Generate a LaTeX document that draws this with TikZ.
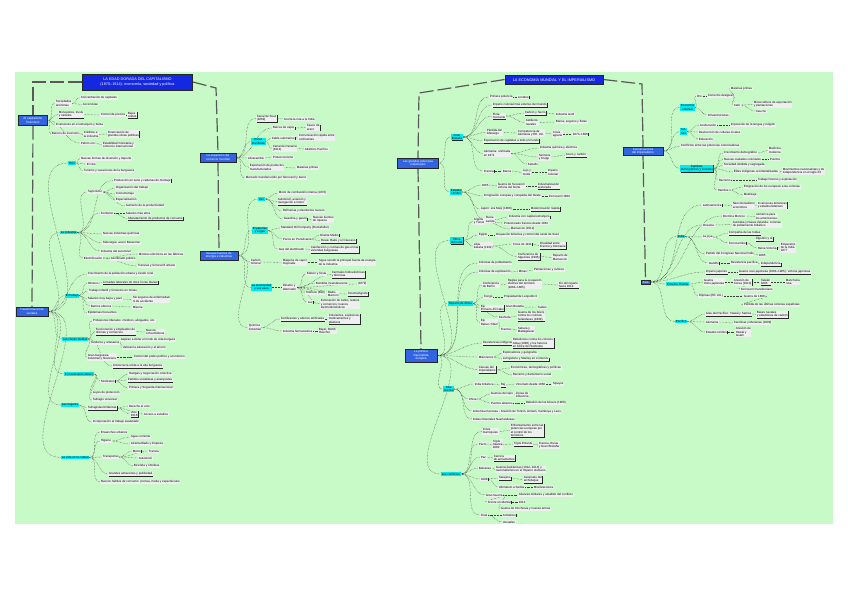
\documentclass[tikz,border=0pt]{standalone}
\usepackage{fontspec}
\setmainfont{Liberation Sans}
\usetikzlibrary{shadows,backgrounds}
\definecolor{paper}{RGB}{200,250,200}
\definecolor{titleblue}{RGB}{20,40,225}
\definecolor{topicblue}{RGB}{50,100,225}
\definecolor{subcyan}{RGB}{0,235,240}
\definecolor{leafgray}{RGB}{238,240,240}
\newcommand\mmfont{\fontsize{3}{3.4}\selectfont}

\begin{document}
\begin{tikzpicture}[
  x=1pt, y=-1pt,
  every node/.style={font=\mmfont},
  titlebox/.style={fill=titleblue, text=white, draw=black!85, line width=0.7pt, align=center, inner sep=1pt, font=\fontsize{3.8}{4.4}\selectfont},
  topic/.style={fill=topicblue, text=white, draw=black!85, line width=0.4pt, align=center, inner sep=0.5pt,
    drop shadow={shadow xshift=0.6pt, shadow yshift=-0.6pt, fill=black!85, opacity=1}},
  sub/.style={anchor=west, fill=subcyan, align=center, inner sep=0.6pt},
  subb/.style={sub, drop shadow={shadow xshift=0.5pt, shadow yshift=-0.5pt, fill=black!85, opacity=1}},
  leaf/.style={anchor=west, fill=leafgray, align=left, inner sep=0.6pt},
  leafb/.style={leaf, drop shadow={shadow xshift=0.5pt, shadow yshift=-0.5pt, fill=black!85, opacity=1}},
  branch/.style={draw=black!65, line width=1.2pt, dash pattern=on 14pt off 4pt},
  link/.style={draw=black!75, line width=0.45pt, densely dotted}
]
\useasboundingbox (0,0) rectangle (848,599);

% titles and main topics
\node[titlebox, minimum width=110pt, minimum height=16pt] (t1) at (137.5,82) {LA EDAD DORADA DEL CAPITALISMO\\ (1870--1914): economía, sociedad y política};
\node[titlebox, minimum width=98pt, minimum height=9pt] (t2) at (554,79.5) {LA ECONOMÍA MUNDIAL Y EL IMPERIALISMO};

\node[topic, minimum width=29pt, minimum height=10pt] (A) at (33,120.5) {El capitalismo\\ financiero};
\node[topic, minimum width=32pt, minimum height=9pt] (B) at (32,311.5) {Transformaciones\\ sociales};
\node[topic, minimum width=36pt, minimum height=9pt] (C) at (218,157.5) {La expansión del\\ comercio mundial};
\node[topic, minimum width=38pt, minimum height=9pt] (D) at (219,255.5) {Nuevas fuentes de\\ energía e industrias};
\node[topic, minimum width=41pt, minimum height=10pt] (F) at (418,163) {Las grandes potencias\\ industriales};
\node[topic, minimum width=32pt, minimum height=13pt] (E) at (421,355.5) {La política\\ imperialista\\ europea};
\node[topic, minimum width=40pt, minimum height=8pt] (G) at (643,151) {Consecuencias\\ del imperialismo};
\node[topic, minimum width=9pt, minimum height=4.5pt] (H) at (645.5,282) {Asia};

\coordinate (k1) at (33,84);
\coordinate (k2) at (216,88);
\coordinate (k3) at (419,93);
\coordinate (k4) at (642,84);

% capitalismo financiero
\node[leaf] (a1) at (55,103.5) {Sociedades\\ anónimas};
\node[leaf] (a11) at (80,97.5) {Concentración de capitales};
\node[leaf] (a12) at (82,104.5) {Accionistas};
\node[leafb] (a2) at (58,114.5) {Monopolios, trusts\\ y cárteles};
\node[leaf] (a21) at (100,115) {Control de precios};
\node[leafb] (a22) at (127,115) {Bajos\\ costes};
\node[leaf] (a3) at (55,125) {Inversiones en el extranjero y bolsa};
\node[leaf] (a4) at (51,133.5) {Bancos de inversión};
\node[leafb] (a41) at (83,134.5) {Créditos a\\ la industria};
\node[leafb] (a42) at (107,134) {Financiación de\\ grandes obras públicas};
\node[leaf] (a5) at (80,143) {Patrón oro};
\node[leaf] (a51) at (102,145) {Estabilidad monetaria y\\ comercio internacional};

% transformaciones sociales
\node[sub] (b1) at (68,163) {Ocio};
\node[leaf] (b11) at (80,158.5) {Nuevas formas de diversión y deporte};
\node[leaf] (b12) at (86,164) {El cine};
\node[leaf] (b13) at (83,171) {Turismo y vacaciones de la burguesía};
\node[sub] (b2) at (60,232.5) {La industria};
\node[leafb] (b21) at (113,180.5) {Producción en serie y cadenas de montaje};
\node[leaf] (b22) at (87,192) {Taylorismo};
\node[leaf] (b221) at (115,188) {Organización del trabajo};
\node[leaf] (b222) at (115,194) {Cronometraje};
\node[leaf] (b223) at (115,200) {Especialización};
\node[leaf] (b224) at (125,206) {Aumento de la productividad};
\node[leaf] (b23) at (100,213) {Fordismo};
\node[leaf] (b231) at (125,213) {Salarios más altos};
\node[leafb] (b232) at (127,218.5) {Abaratamiento de productos de consumo};
\node[leaf] (b24) at (102,234) {Nuevas industrias químicas};
\node[leafb] (b25) at (102,243) {Siderurgia: acero Bessemer};
\node[leaf] (b26) at (100,251) {Industria del automóvil};
\node[leaf] (b27) at (83,258) {Electrificación};
\node[leaf] (b271) at (110,259) {Alumbrado público};
\node[leaf] (b272) at (138,254) {Motores eléctricos en las fábricas};
\node[leaf] (b273) at (137,266) {Tranvías y ferrocarril urbano};
\node[leaf] (b28) at (87,274) {Crecimiento de la población urbana y éxodo rural};
\node[sub] (b3) at (65,295.5) {El trabajo};
\node[leaf] (b31) at (87,283) {Obreros};
\node[leafb] (b311) at (102,282.5) {Jornadas laborales de doce horas diarias};
\node[leaf] (b32) at (88,291) {Trabajo infantil y femenino en minas};
\node[leaf] (b33) at (87,299) {Salarios muy bajos y paro};
\node[leaf] (b331) at (132,299.5) {Sin seguros de enfermedad\\ ni de accidente};
\node[leaf] (b34) at (90,306) {Barrios obreros};
\node[leaf] (b341) at (132,307) {Miseria};
\node[leaf] (b35) at (87,313) {Epidemias frecuentes};
\node[sub] (b4) at (62,339) {Las clases medias};
\node[leaf] (b41) at (92,321) {Profesiones liberales: médicos, abogados, etc.};
\node[leafb] (b42) at (95,331.5) {Funcionarios y empleados de\\ oficinas y comercios};
\node[leaf] (b421) at (145,332) {Nuevos\\ consumidores};
\node[leaf] (b43) at (90,343) {Tenderos y artesanos};
\node[leaf] (b431) at (120,340) {Aspiran a imitar el modo de vida burgués};
\node[leaf] (b432) at (122,348) {Valoran la educación y el ahorro};
\node[leaf] (b44) at (87,357) {Gran burguesía\\ industrial y financiera};
\node[leaf] (b441) at (133,357) {Control del poder político y económico};
\node[leafb] (b45) at (112,366) {Aristocracia unida a la alta burguesía};
\node[sub] (b5) at (64,374) {El movimiento obrero};
\node[leafb] (b51) at (100,381) {Sindicatos};
\node[leaf] (b511) at (128,374) {Huelgas y negociación colectiva};
\node[leafb] (b512) at (127,380) {Partidos socialistas y anarquistas};
\node[leaf] (b513) at (128,388) {Primera y Segunda Internacional};
\node[leaf] (b52) at (92,393) {Leyes de protección};
\node[leaf] (b53) at (92,400) {Sufragio universal};
\node[sub] (b6) at (61,405) {Las mujeres};
\node[leafb] (b61) at (87,408) {Sufragistas británicas};
\node[leaf] (b611) at (128,406) {Derecho al voto};
\node[leafb] (b612) at (130,414) {Voto\\ 1918};
\node[leaf] (b613) at (143,414) {Acceso a estudios};
\node[leaf] (b62) at (92,422) {Incorporación al trabajo asalariado};
\node[sub] (b7) at (61,457.5) {La vida en la ciudad};
\node[leaf] (b71) at (100,432) {Ensanches urbanos};
\node[leaf] (b72) at (100,441) {Higiene};
\node[leaf] (b721) at (130,437) {Agua corriente};
\node[leaf] (b722) at (130,444) {Alcantarillado y limpieza};
\node[leaf] (b73) at (102,457) {Transportes};
\node[leafb] (b731) at (132,451) {Metro};
\node[leaf] (b732) at (148,451) {Tranvía};
\node[leafb] (b733) at (138,458) {Automóvil};
\node[leaf] (b734) at (133,466) {Bicicleta y ómnibus};
\node[leafb] (b74) at (108,474) {Grandes almacenes y publicidad};
\node[leaf] (b75) at (100,482) {Nuevos hábitos de consumo: prensa, moda y espectáculos};

% comercio mundial
\node[sub] (c1) at (251,141.5) {Rutas\\ marítimas};
\node[leafb] (c2) at (256,118.5) {Canal de Suez\\ (1869)};
\node[leaf] (c21) at (283,119) {Acorta la ruta a la India};
\node[leafb] (c3) at (272,128) {Barcos de vapor};
\node[leafb] (c31) at (306,127.5) {Casco de\\ acero};
\node[leafb] (c4) at (271,138) {Cable submarino};
\node[leaf] (c41) at (298,137.5) {Comunicación rápida entre\\ continentes};
\node[leaf] (c5) at (272,148.5) {Canal de Panamá\\ (1914)};
\node[leaf] (c51) at (304,149) {Atlántico-Pacífico};
\node[leafb] (c6) at (247,158) {Librecambio};
\node[leafb] (c61) at (272,157) {Proteccionismo};
\node[leaf] (c7) at (249,167.5) {Exportación de productos\\ manufacturados};
\node[leaf] (c71) at (296,168) {Materias primas};
\node[leaf] (c8) at (245,178) {Mercado mundial unido por ferrocarril y barco};

% energia
\node[sub] (d1) at (258,199) {Uso};
\node[leaf] (d11) at (278,193) {Motor de combustión interna (1876)};
\node[leafb] (d12) at (277,201.5) {Automóvil, aviación y\\ navegación a motor};
\node[leaf] (d13) at (282,211) {Refinerías y oleoductos nuevos};
\node[leafb] (d14) at (283,219) {Gasolina y gasoil};
\node[leaf] (d141) at (312,219.5) {Nuevas fuentes\\ de riqueza};
\node[sub] (d2) at (252,230.5) {El petróleo\\ y el gas};
\node[leafb] (d21) at (280,228) {Standard Oil Company (Rockefeller)};
\node[leaf] (d22) at (282,239) {Pozos en Pensilvania};
\node[leafb] (d221) at (319,235) {Oriente Medio};
\node[leafb] (d222) at (320,241) {Rusia: Bakú y el Cáucaso};
\node[leaf] (d23) at (278,249) {Gas del alumbrado};
\node[leafb] (d231) at (310,249.5) {Calefacción y cocinas de gas en las\\ viviendas burguesas};
\node[leaf] (d3) at (250,262) {Carbón\\ mineral};
\node[leaf] (d31) at (282,262.5) {Máquina de vapor\\ mejorada};
\node[leaf] (d32) at (318,262.5) {Sigue siendo la principal fuente de energía\\ de la industria};
\node[sub] (d4) at (251,287.5) {La electricidad\\ y sus usos};
\node[leaf] (d41) at (282,287.5) {Dinamo y\\ alternador};
\node[leaf] (d411) at (306,274) {Edison y Tesla};
\node[leafb] (d412) at (331,274.5) {Centrales hidroeléctricas\\ y térmicas};
\node[leaf] (d413) at (315,283) {Bombilla incandescente};
\node[leaf] (d414) at (357,284) {(1879)};
\node[leaf] (d415) at (305,293) {Teléfono (Bell)};
\node[leaf] (d416) at (327,294) {Radio\\ Marconi};
\node[leafb] (d417) at (347,294) {Cinematógrafo};
\node[leafb] (d418) at (307,302) {Luz};
\node[leaf] (d419) at (320,304) {Iluminación de calles, teatros\\ y comercios; nuevos\\ electrodomésticos};
\node[leaf] (d5) at (248,327.5) {Química\\ industrial};
\node[leafb] (d51) at (280,319) {Fertilizantes y abonos artificiales};
\node[leafb] (d52) at (328,319) {Colorantes, explosivos,\\ medicamentos y\\ plásticos};
\node[leaf] (d53) at (282,331) {Industria farmacéutica};
\node[leaf] (d54) at (318,331) {Bayer, BASF,\\ Hoechst};

% grandes potencias
\node[subb] (f1) at (451,137) {Gran\\ Bretaña};
\node[leaf] (f11) at (489,97) {Primera potencia};
\node[leafb] (f12) at (517,97) {Londres};
\node[leafb] (f13) at (492,105) {Imperio colonial más extenso del mundo};
\node[leafb] (f14) at (492,116) {Flota\\ mercante};
\node[leafb] (f141) at (524,113) {Carbón y hierro};
\node[leaf] (f142) at (555,114) {Industria textil};
\node[leaf] (f143) at (525,122.5) {Astilleros\\ navales};
\node[leaf] (f144) at (555,122) {Banca, seguros y fletes};
\node[leaf] (f15) at (486,132.5) {Pérdida del\\ liderazgo};
\node[leafb] (f151) at (517,133) {Competencia de\\ Alemania y EE.\,UU.};
\node[leaf] (f152) at (552,134) {Crisis\\ agraria};
\node[leafb] (f153) at (572,134) {1873--1896};
\node[leafb] (f16) at (483,141) {Exportación de capitales a todo el mundo};
\node[leafb] (f17) at (483,153.5) {Alemania: unificada\\ en 1871};
\node[leaf] (f171) at (539,148) {Industria química y eléctrica};
\node[leaf] (f172) at (538,157) {Siemens\\ y Krupp};
\node[leafb] (f173) at (565,155) {Acero y carbón};
\node[leaf] (f174) at (527,164) {Kartells};
\node[leafb] (f18) at (483,171) {Francia};
\node[leaf] (f181) at (502,171) {Banca};
\node[leaf] (f182) at (522,172.5) {Lujo y\\ moda};
\node[leafb] (f183) at (547,172.5) {Imperio\\ colonial};
\node[sub] (f2) at (450,192) {Estados\\ Unidos};
\node[leaf] (f21) at (481,185) {1865};
\node[leaf] (f22) at (497,186) {Guerra de Secesión:\\ victoria del Norte};
\node[leafb] (f23) at (537,186) {Industrialización\\ acelerada};
\node[leaf] (f24) at (483,196) {Inmigración europea y conquista del Oeste};
\node[leaf] (f25) at (548,196) {Ferrocarril 1869};
\node[leaf] (f26) at (480,209) {Japón: era Meiji (1868)};
\node[leafb] (f261) at (530,209) {Modernización rápida};
\node[leaf] (f27) at (485,219.5) {Rusia\\ zarista};
\node[leafb] (f271) at (508,217) {Industria con capital extranjero};

% politica imperialista
\node[subb] (e1) at (450,240.5) {África\\ del norte};
\node[leaf] (e11) at (473,221.5) {Argelia\\ y Túnez};
\node[leaf] (e12) at (503,223) {Protectorado francés desde 1881};
\node[leaf] (e13) at (510,229) {Marruecos (1912)};
\node[leaf] (e14) at (478,235) {Egipto};
\node[leaf] (e15) at (495,235) {Ocupación británica y control del canal de Suez};
\node[leaf] (e16) at (473,246) {Libia\\ italiana (1911)};
\node[leafb] (e17) at (512,244) {Crisis de 1911};
\node[leafb] (e18) at (539,245.5) {Rivalidad entre\\ Francia y Alemania};
\node[leafb] (e19) at (517,256.5) {Conferencia de\\ Algeciras (1906)};
\node[leaf] (e1a) at (552,257.5) {Reparto de\\ Marruecos};
\node[leaf] (e2) at (478,263) {Colonias de poblamiento};
\node[leaf] (e3) at (478,272) {Colonias de explotación};
\node[leaf] (e31) at (518,271) {Minas};
\node[leaf] (e32) at (533,270) {Plantaciones y cultivos};
\node[sub] (e4) at (448,303.5) {Reparto de África};
\node[leaf] (e41) at (482,285) {Conferencia\\ de Berlín};
\node[leaf] (e42) at (507,284) {Reglas para la ocupación\\ efectiva del territorio\\ (1884--1885)};
\node[leafb] (e43) at (558,285) {Fin del reparto\\ hacia 1914};
\node[leaf] (e44) at (483,297) {Congo};
\node[leaf] (e45) at (503,297) {Propiedad de Leopoldo II};
\node[leafb] (e46) at (480,308) {Eje\\ El Cairo--El Cabo};
\node[leaf] (e47) at (505,306) {Gran Bretaña};
\node[leaf] (e48) at (537,307) {Sudán};
\node[leafb] (e49) at (517,316) {Guerra de los bóers\\ contra los colonos\\ holandeses (1899)};
\node[leaf] (e4a) at (498,317) {Fashoda};
\node[leaf] (e4b) at (480,322.5) {Eje\\ Dakar--Yibuti};
\node[leaf] (e4c) at (500,329) {Francia};
\node[leaf] (e4d) at (517,330) {Sahara y\\ Madagascar};
\node[leafb] (e5) at (482,343) {Resistencias indígenas};
\node[leafb] (e51) at (512,343) {Rebeliones contra los colonos:\\ Adua (1896) y los hereros\\ en África del Sudoeste};
\node[leaf] (e6) at (478,357) {Misioneros};
\node[leaf] (e61) at (502,353) {Exploradores y geógrafos};
\node[leafb] (e62) at (502,359) {Livingstone y Stanley en el interior};
\node[leafb] (e7) at (478,369.5) {Causas del\\ imperialismo};
\node[leaf] (e71) at (510,368) {Económicas, demográficas y políticas};
\node[leaf] (e72) at (512,375) {Racismo y darwinismo social};
\node[sub] (e8) at (443,389) {Asia\\ oriental};
\node[leaf] (e81) at (474,384) {India británica};
\node[leafb] (e82) at (500,385) {Raj};
\node[leaf] (e83) at (515,384) {Virreinato desde 1858};
\node[leaf] (e84) at (552,384) {Sipayos};
\node[leaf] (e85) at (468,399) {China};
\node[leaf] (e86) at (490,394) {Guerras del opio};
\node[leaf] (e87) at (515,395) {Zonas de\\ influencia};
\node[leaf] (e88) at (490,403) {Puertos abiertos};
\node[leaf] (e89) at (525,403) {Rebelión de los bóxers (1900)};
\node[leaf] (e8a) at (472,411) {Indochina francesa};
\node[leaf] (e8b) at (500,412) {Anexión de Tonkín, Annam, Camboya y Laos};
\node[leaf] (e8c) at (472,419) {Indias Orientales Neerlandesas};
\node[sub] (e9) at (441,474) {Los conflictos};
\node[leaf] (e91) at (482,431.5) {Crisis\\ marroquíes};
\node[leafb] (e92) at (510,430.5) {Enfrentamiento entre las\\ potencias europeas por\\ el control de los\\ territorios};
\node[leaf] (e93) at (478,444) {Pacto};
\node[leaf] (e94) at (492,444.5) {Triple\\ Alianza\\ 1882};
\node[leafb] (e95) at (513,444) {Triple Entente};
\node[leaf] (e96) at (538,445) {Francia, Rusia\\ y Gran Bretaña};
\node[leaf] (e97) at (480,457) {Paz};
\node[leafb] (e98) at (493,458) {Carrera\\ de armamentos};
\node[leaf] (e99) at (478,468) {Balcanes};
\node[leaf] (e9a) at (495,469.5) {Guerras balcánicas (1912--1913) y\\ nacionalismos en el Imperio otomano};
\node[leafb] (e9b) at (480,479) {1908};
\node[leafb] (e9c) at (498,478) {Sarajevo};
\node[leafb] (e9d) at (523,479.5) {Asesinato del\\ archiduque};
\node[leaf] (e9e) at (498,487) {Ultimátum a Serbia};
\node[leaf] (e9f) at (533,487) {Movilizaciones};
\node[leaf] (e9g) at (485,495) {Gran Guerra};
\node[leaf] (e9h) at (518,495) {Alianzas militares y estallido del conflicto};
\node[leafb] (e9i) at (487,502) {Frente occidental};
\node[leaf] (e9j) at (518,502) {1914};
\node[leaf] (e9k) at (500,509) {Guerra de trincheras y nuevas armas};
\node[leaf] (e9l) at (480,515) {Final};
\node[leafb] (e9m) at (502,515) {Armisticio};
\node[leaf] (e9n) at (502,522) {Versalles};

% consecuencias
\node[sub] (g1) at (680,107.5) {Economía\\ colonial};
\node[leaf] (g11) at (730,88.5) {Materias primas};
\node[leaf] (g12) at (696,96) {Oro};
\node[leaf] (g13) at (707,96) {Comercio desigual};
\node[leafb] (g14) at (733,105) {Café};
\node[leaf] (g15) at (753,104.5) {Monocultivos de exportación\\ y plantaciones};
\node[leaf] (g16) at (755,111) {Caucho};
\node[leaf] (g17) at (707,115) {Infraestructuras};
\node[sub] (g2) at (680,131.5) {Cul-\\tura};
\node[leafb] (g21) at (699,125) {Aculturación};
\node[leaf] (g22) at (730,125) {Imposición de la lengua y religión};
\node[leaf] (g23) at (698,132) {Destrucción de culturas locales};
\node[leaf] (g24) at (698,139) {Educación};
\node[leaf] (g3) at (680,146) {Conflictos entre las potencias colonizadoras};
\node[subb] (g4) at (680,168.5) {Cambios\\ demográficos y sociales};
\node[leaf] (g41) at (723,153) {Crecimiento demográfico};
\node[leaf] (g42) at (768,150.5) {Medicina\\ moderna};
\node[leaf] (g43) at (723,159) {Nuevas ciudades coloniales};
\node[leaf] (g44) at (769,159) {Puertos};
\node[leaf] (g45) at (723,165) {Sociedad dividida y segregada};
\node[leaf] (g46) at (733,172) {Élites indígenas occidentalizadas};
\node[leafb] (g47) at (782,171) {Movimientos nacionalistas y de\\ independencia en el siglo XX};
\node[leaf] (g48) at (718,180) {Racismo};
\node[leaf] (g49) at (757,180) {Trabajo forzoso y explotación};
\node[leaf] (g4a) at (717,190) {Hambre};
\node[leaf] (g4b) at (743,187) {Emigración de los europeos a las colonias};
\node[leaf] (g4c) at (743,195) {Mestizaje};

% asia
\node[leafb] (h01) at (702,205) {Latinoamérica};
\node[leaf] (h02) at (732,205.5) {Neocolonialismo\\ económico};
\node[leafb] (h03) at (757,205) {Inversiones británicas\\ y estadounidenses};
\node[leafb] (h04) at (722,216) {Doctrina Monroe};
\node[leaf] (h05) at (755,216.5) {«América para\\ los americanos»};
\node[leaf] (h06) at (702,225) {Oceanía};
\node[leaf] (h07) at (732,224.5) {Australia y Nueva Zelanda: colonias\\ de poblamiento británico};
\node[sub] (h1) at (677,236.5) {India};
\node[leaf] (h11) at (702,237) {La joya};
\node[leafb] (h12) at (728,233) {Compañía de las Indias};
\node[leafb] (h13) at (755,239) {Algodón y té};
\node[leafb] (h14) at (728,243) {Ferrocarriles};
\node[leafb] (h15) at (757,248) {Reina Victoria};
\node[leafb] (h16) at (780,247.5) {Emperatriz\\ de la India\\ 1877};
\node[leaf] (h17) at (705,254) {Partido del Congreso Nacional Indio};
\node[leaf] (h18) at (758,255) {1885};
\node[leafb] (h19) at (708,263) {Gandhi};
\node[leaf] (h1a) at (730,263) {Resistencia pacífica};
\node[leafb] (h1b) at (760,264) {Independencia};
\node[leafb] (h2) at (705,272) {Imperio japonés};
\node[leafb] (h21) at (738,272) {Guerra ruso-japonesa (1904--1905): victoria japonesa};
\node[sub] (h3) at (666,284) {Extremo Oriente};
\node[leafb] (h31) at (703,282) {Guerra\\ chino-japonesa};
\node[leafb] (h32) at (733,282) {Anexión de\\ Corea (1910)};
\node[leafb] (h33) at (760,282) {Taiwán\\ 1895};
\node[leaf] (h34) at (785,282) {Manchuria\\ rusa};
\node[leaf] (h35) at (740,289) {Ferrocarril transiberiano};
\node[leaf] (h36) at (698,296) {Filipinas (EE.\,UU.)};
\node[leaf] (h37) at (743,296) {Guerra de 1898};
\node[leaf] (h38) at (743,305) {Pérdida de las últimas colonias españolas};
\node[sub] (h4) at (675,321.5) {Pacífico};
\node[leafb] (h41) at (705,314) {Islas del Pacífico: Hawái y Samoa};
\node[leafb] (h42) at (756,314.5) {Bases navales\\ y estaciones de carbón};
\node[leaf] (h43) at (705,322) {Alemania};
\node[leaf] (h44) at (733,323) {Carolinas y Marianas (1899)};
\node[leafb] (h45) at (705,332) {Estados Unidos};
\node[leaf] (h46) at (735,332) {Anexión de\\ Hawái y\\ Guam};

\begin{scope}[on background layer]
  \fill[paper] (15,72) rectangle (833,524);
  % main branches
  \draw[branch] (t1.west) -| (A.north);
  \draw[branch] (A.south) -- (B.north);
  \draw[branch] (t1.east) -- (k2) -- (C.north);
  \draw[branch] (C.south) -- (D.north);
  \draw[branch] (t2.west) -- (k3) -- (F.north);
  \draw[branch] (F.south) -- (E.north);
  \draw[branch] (t2.east) -- (k4) -- (G.north);
  \draw[branch] (G.south) -- (H.north);
  % links
  \foreach \p/\c in {A/a1,A/a2,A/a3,A/a4,A/a5,a1/a11,a1/a12,a2/a21,a21/a22,a4/a41,a41/a42,a5/a51,
    B/b1,B/b2,B/b28,B/b3,B/b4,B/b5,B/b6,B/b7,b1/b11,b1/b12,b1/b13,
    b2/b21,b2/b22,b2/b23,b2/b24,b2/b25,b2/b26,b2/b27,b22/b221,b22/b222,b22/b223,b22/b224,
    b23/b231,b23/b232,b27/b271,b27/b272,b27/b273,b3/b31,b3/b32,b3/b33,b3/b34,b3/b35,
    b31/b311,b33/b331,b34/b341,b4/b41,b4/b42,b4/b43,b4/b44,b4/b45,b42/b421,b43/b431,b43/b432,b44/b441,
    b5/b51,b5/b52,b5/b53,b51/b511,b51/b512,b51/b513,b6/b61,b6/b62,b61/b611,b61/b612,b61/b613,
    b7/b71,b7/b72,b7/b73,b7/b74,b7/b75,b72/b721,b72/b722,b73/b731,b73/b732,b73/b733,b73/b734}
    \draw[link] (\p.east) to[out=0,in=180] (\c.west);
  \foreach \p/\c in {C/c1,C/c2,C/c3,C/c6,C/c7,C/c8,c1/c4,c1/c5,c2/c21,c3/c31,c4/c41,c5/c51,c6/c61,c7/c71,
    D/d1,D/d2,D/d3,D/d4,D/d5,d1/d11,d1/d12,d1/d13,d1/d14,d14/d141,d2/d21,d2/d22,d2/d23,
    d22/d221,d22/d222,d23/d231,d3/d31,d31/d32,d4/d41,d41/d411,d41/d412,d41/d413,d41/d414,
    d41/d415,d41/d416,d41/d417,d41/d418,d41/d419,d5/d51,d5/d53,d51/d52,d53/d54}
    \draw[link] (\p.east) to[out=0,in=180] (\c.west);
  \foreach \p/\c in {F/f1,F/f2,f1/f11,f1/f13,f1/f14,f1/f15,f1/f16,f1/f17,f1/f18,f11/f12,
    f14/f141,f14/f143,f141/f142,f143/f144,f15/f151,f151/f152,f152/f153,f17/f171,f17/f172,f17/f174,
    f172/f173,f18/f181,f181/f182,f182/f183,f2/f21,f2/f24,f2/f26,f2/f27,f21/f22,f22/f23,f24/f25,
    f26/f261,f27/f271}
    \draw[link] (\p.east) to[out=0,in=180] (\c.west);
  \foreach \p/\c in {E/e1,E/e2,E/e3,E/e4,E/e5,E/e6,E/e7,E/e8,E/e9,e1/e11,e1/e14,e1/e16,e11/e12,e11/e13,
    e14/e15,e16/e17,e16/e19,e17/e18,e19/e1a,e3/e31,e31/e32,e4/e41,e4/e44,e4/e46,e4/e4a,e4/e4b,
    e41/e42,e42/e43,e44/e45,e46/e47,e46/e48,e4a/e49,e4b/e4c,e4c/e4d,e5/e51,e6/e61,e6/e62,e7/e71,e7/e72,
    e8/e81,e8/e85,e8/e8a,e8/e8c,e81/e82,e82/e83,e83/e84,e85/e86,e85/e88,e86/e87,e88/e89,e8a/e8b,
    e9/e91,e9/e93,e9/e97,e9/e99,e9/e9b,e9/e9g,e9/e9l,e91/e92,e93/e94,e94/e95,e95/e96,e97/e98,
    e99/e9a,e9b/e9c,e9b/e9e,e9c/e9d,e9e/e9f,e9g/e9h,e9g/e9i,e9g/e9k,e9i/e9j,e9l/e9m,e9l/e9n}
    \draw[link] (\p.east) to[out=0,in=180] (\c.west);
  \foreach \p/\c in {G/g1,G/g2,G/g3,G/g4,g1/g12,g1/g17,g12/g13,g13/g11,g13/g14,g14/g15,g14/g16,
    g2/g21,g2/g23,g2/g24,g21/g22,g4/g41,g4/g43,g4/g45,g4/g46,g4/g48,g4/g4a,g41/g42,g43/g44,
    g46/g47,g48/g49,g4a/g4b,g4a/g4c,
    H/h01,H/h04,H/h06,H/h1,H/h2,H/h3,H/h4,h01/h02,h02/h03,h04/h05,h06/h07,h1/h11,h1/h17,h1/h19,
    h11/h12,h11/h14,h12/h13,h14/h15,h15/h16,h17/h18,h19/h1a,h1a/h1b,h2/h21,h3/h31,h3/h36,
    h31/h32,h32/h33,h33/h34,h32/h35,h36/h37,h37/h38,h4/h41,h4/h43,h4/h45,h41/h42,h43/h44,h45/h46}
    \draw[link] (\p.east) to[out=0,in=180] (\c.west);
\end{scope}
\end{tikzpicture}
\end{document}
